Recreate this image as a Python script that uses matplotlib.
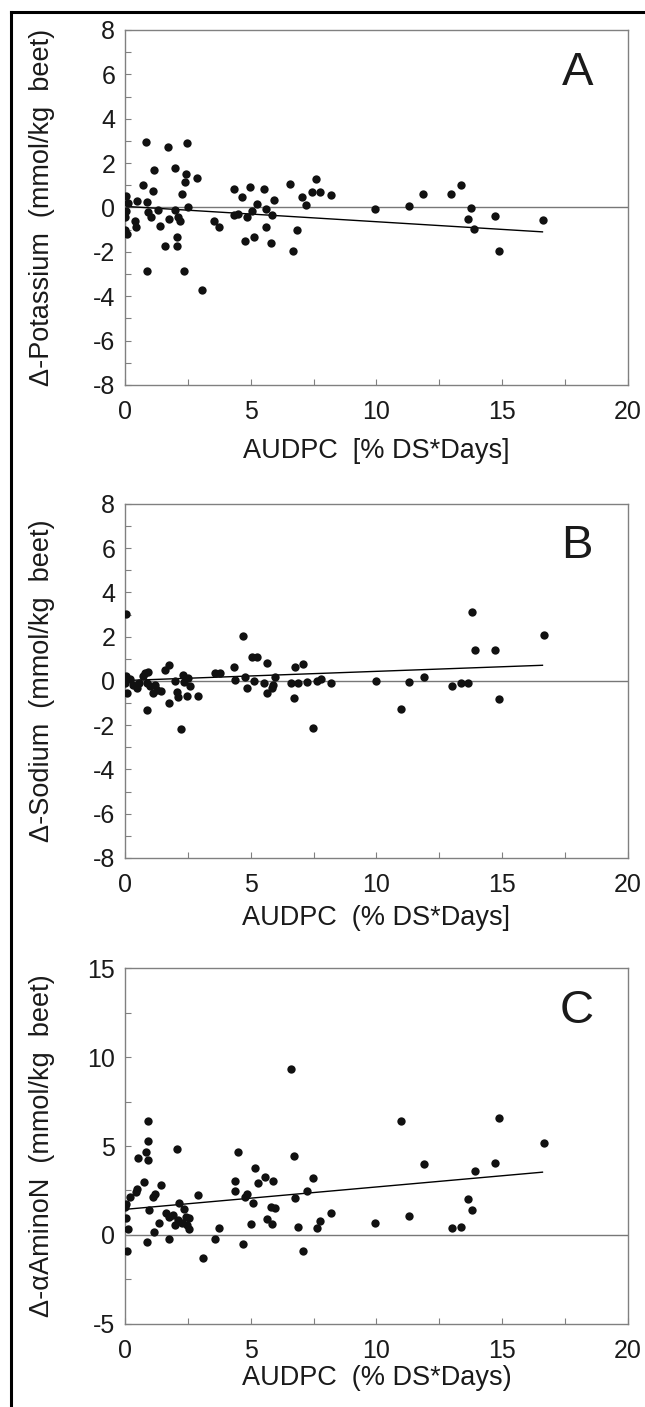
import numpy as np
import matplotlib.pyplot as plt
from matplotlib.lines import Line2D

plt.rcParams['font.family'] = ['Liberation Sans', 'DejaVu Sans']
plt.rcParams['axes.unicode_minus'] = False

# panel A - potassium
pot_x = [0.04, 0.13, 0.04, 0.0, 0.0, 0.09, 0.46, 0.41, 0.44, 0.70, 0.82, 0.86, 0.90, 1.05, 0.86,
         1.13, 1.17, 1.33, 1.39, 1.59, 1.72, 1.74, 1.99, 1.99, 2.05, 2.08, 2.12, 2.19, 2.27, 2.35,
         2.39, 2.41, 2.48, 2.52, 2.88, 3.06, 3.54, 3.72, 4.33, 4.33, 4.48, 4.67, 4.76, 4.84, 4.98,
         5.04, 5.14, 5.26, 5.54, 5.61, 5.61, 5.85, 5.82, 5.92, 6.57, 6.68, 6.83, 7.04, 7.21, 7.44,
         7.61, 7.74, 8.18, 9.95, 11.28, 11.86, 12.96, 13.36, 13.77, 13.63, 13.88, 14.71, 14.88, 16.62]
pot_y = [0.51, 0.18, -0.15, -0.45, -1.0, -1.2, 0.27, -0.6, -0.87, 0.99, 2.93, 0.26, -0.21, -0.45, -2.86,
         0.74, 1.68, -0.12, -0.84, -1.74, 2.71, -0.50, 1.79, -0.12, -1.35, -1.74, -0.45, -0.63, 0.60, -2.86,
         1.14, 1.50, 2.92, 0.03, 1.35, -3.73, -0.63, -0.87, 0.81, -0.35, -0.30, 0.45, -1.53, -0.42, 0.93,
         -0.15, -1.35, 0.15, 0.81, -0.08, -0.87, -0.32, -1.59, 0.33, 1.08, -1.95, -1.01, 0.48, 0.11, 0.68,
         1.29, 0.68, 0.57, -0.05, 0.05, 0.6, 0.6, 1.01, -0.02, -0.51, -0.95, -0.39, -1.94, -0.57]

# panel B - sodium
sod_x = [0.04, 0.03, 0.0, 0.07, 0.2, 0.33, 0.46, 0.57, 0.70, 0.8, 0.93, 0.89, 0.86, 0.99, 1.1,
         1.19, 1.26, 1.42, 1.59, 1.76, 1.76, 1.99, 2.05, 2.12, 2.23, 2.29, 2.35, 2.45, 2.52, 2.58,
         2.90, 3.58, 3.78, 4.35, 4.39, 4.71, 4.77, 4.86, 5.04, 5.24, 5.13, 5.63, 5.54, 5.63, 5.87,
         5.96, 5.83, 6.59, 6.72, 6.77, 6.86, 7.06, 7.22, 7.49, 7.65, 7.78, 8.2, 9.98, 10.97, 11.29,
         11.9, 12.99, 13.36, 13.65, 13.78, 13.9, 14.72, 14.88, 16.65]
sod_y = [3.02, 0.23, -0.11, -0.53, 0.08, -0.18, -0.33, -0.11, 0.23, 0.35, 0.42, -1.31, -0.11, -0.23, -0.53,
         -0.18, -0.41, -0.44, 0.5, 0.72, -1.01, 0.0, -0.48, -0.71, -2.17, 0.27, -0.03, -0.68, 0.12, -0.23,
         -0.68, 0.38, 0.35, 0.62, 0.05, 2.05, 0.17, -0.33, 1.10, 1.10, 0.0, 0.8, -0.08, -0.53, -0.18,
         0.2, -0.33, -0.11, -0.75, 0.62, -0.11, 0.75, -0.06, -2.14, 0.0, 0.09, -0.11, 0.02, -1.27, -0.03,
         0.2, -0.21, -0.11, -0.11, 3.14, 1.40, 1.40, -0.80, 2.10]

# panel C - alpha amino N
amino_x = [6.6, 0.9, 0.9, 0.82, 0.93, 0.52, 2.05, 4.48, 6.72, 5.17, 0.74, 0.46, 0.44, 0.2, 0.04,
           0.0, 0.04, 0.13, 0.09, 0.86, 0.97, 1.13, 1.21, 1.42, 1.15, 1.35, 1.62, 1.76, 1.76, 1.92,
           1.99, 2.12, 2.16, 2.25, 2.35, 2.42, 2.48, 2.56, 2.53, 2.9, 3.1, 3.58, 3.75, 4.37, 4.39,
           4.71, 4.77, 4.86, 5.02, 5.08, 5.3, 5.57, 5.63, 5.82, 5.87, 5.86, 5.96, 6.77, 6.86, 7.06,
           7.22, 7.49, 7.64, 7.77, 8.2, 9.95, 10.99, 11.28, 11.9, 13.0, 13.37, 13.65, 13.79, 13.9,
           14.73, 14.89, 16.65]
amino_y = [9.34, 6.4, 5.27, 4.65, 4.22, 4.3, 4.82, 4.69, 4.45, 3.75, 3.0, 2.57, 2.44, 2.14, 1.73,
           1.56, 0.98, 0.32, -0.9, -0.39, 1.41, 2.12, 2.29, 2.8, 0.19, 0.68, 1.22, 0.99, -0.21, 1.13,
           0.56, 0.84, 1.82, 0.66, 1.44, 1.03, 0.56, 0.94, 0.32, 2.27, -1.28, -0.24, 0.41, 3.06, 2.46,
           -0.51, 2.12, 2.29, 0.62, 1.78, 2.91, 3.25, 0.88, 1.56, 3.04, 0.62, 1.5, 2.08, 0.47, -0.88,
           2.48, 3.19, 0.38, 0.79, 1.22, 0.68, 6.38, 1.05, 4.0, 0.38, 0.47, 2.0, 1.41, 3.6,
           4.03, 6.6, 5.16]

# trend lines (end points)
trend_x = [0.0, 16.6]
pot_trend = [0.05, -1.1]
sod_trend = [0.02, 0.71]
amino_trend = [1.44, 3.53]

fig = plt.figure(figsize=(6.45, 14.07), dpi=100)

panels = [
    (pot_x, pot_y, pot_trend, 'A', '\u0394-Potassium  (mmol/kg  beet)', 'AUDPC  [% DS*Days]',
     (-8, 8), np.arange(-8, 9, 2), np.arange(-8, 9, 1), [0.1938, 0.7264, 0.7798, 0.2523], -0.185),
    (sod_x, sod_y, sod_trend, 'B', '\u0394-Sodium  (mmol/kg  beet)', 'AUDPC  (% DS*Days]',
     (-8, 8), np.arange(-8, 9, 2), np.arange(-8, 9, 1), [0.1938, 0.3902, 0.7798, 0.2516], -0.17),
    (amino_x, amino_y, amino_trend, 'C', '\u0394-\u03b1AminoN  (mmol/kg  beet)', 'AUDPC  (% DS*Days)',
     (-5, 15), np.arange(-5, 16, 5), np.arange(-5, 16, 2.5), [0.1938, 0.0590, 0.7798, 0.2530], -0.152),
]

for xs, ys, tr, letter, ylab, xlab, ylim, yt, ymin, pos, xlab_y in panels:
    ax = fig.add_axes(pos)
    ax.axhline(0, color='#777777', lw=1.0, zorder=1)
    ax.plot(trend_x, tr, color='black', lw=1.0, zorder=2)
    ax.plot(xs, ys, 'o', color='#111111', ms=6, mec='none', zorder=3)
    ax.set_xlim(0, 20)
    ax.set_ylim(*ylim)
    ax.set_xticks([0, 5, 10, 15, 20])
    ax.set_xticks([2.5, 7.5, 12.5, 17.5], minor=True)
    ax.set_yticks(yt)
    ax.set_yticks(ymin, minor=True)
    ax.tick_params(which='both', direction='in', length=4, width=0.8, color='#808080',
                   labelsize=18, labelcolor='#1a1a1a')
    ax.tick_params(axis='x', pad=11)
    ax.tick_params(axis='y', pad=7)
    for sp in ax.spines.values():
        sp.set_color('#808080')
        sp.set_linewidth(1.0)
    ax.set_ylabel(ylab, fontsize=19.5, va='center', color='#1a1a1a')
    ax.yaxis.set_label_coords(-0.165, 0.5)
    ax.set_xlabel(xlab, fontsize=19.5, va='center', color='#1a1a1a')
    ax.xaxis.set_label_coords(0.5, xlab_y)
    ax.text(0.899, 0.88, letter, transform=ax.transAxes, fontsize=34,
            ha='center', va='center', color='#1a1a1a')

# black frame on left and top
fig.add_artist(Line2D([0.017, 0.017], [0, 0.9915], color='black', lw=2.2))
fig.add_artist(Line2D([0.017, 1.0], [0.9915, 0.9915], color='black', lw=2.2))

fig.savefig('out.png', dpi=100)
